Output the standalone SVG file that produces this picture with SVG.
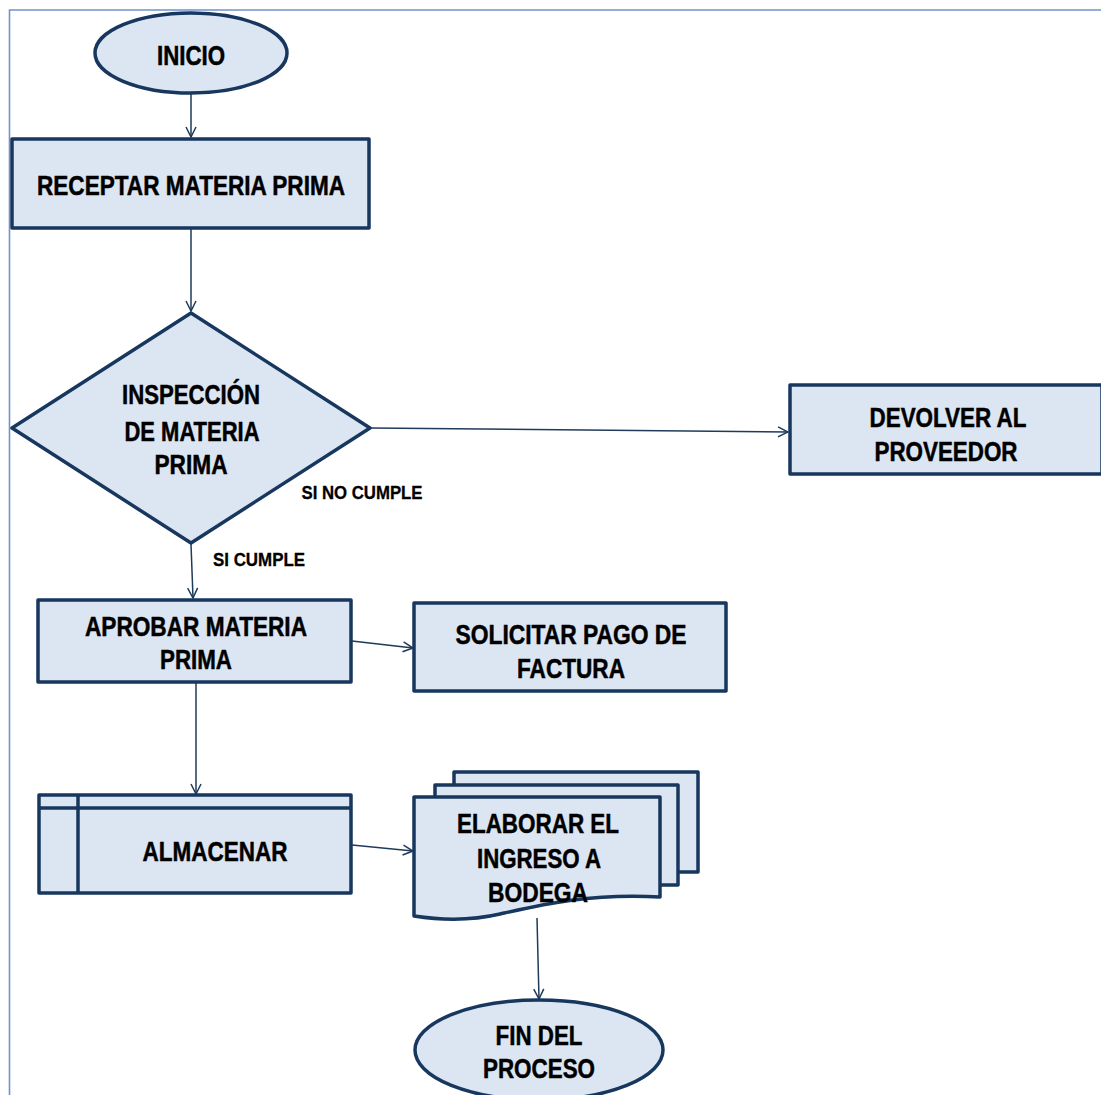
<svg xmlns="http://www.w3.org/2000/svg" width="1101" height="1095" viewBox="0 0 1101 1095">
<defs>
<style>
.shape{fill:#dce6f2;stroke:#17375e;stroke-width:3.5;stroke-linejoin:round}
.inner{fill:none;stroke:#17375e;stroke-width:3.5}
.lbl{font-family:"Liberation Sans Narrow","Liberation Sans",Arial,sans-serif;font-weight:bold;font-size:27px;fill:#000;stroke:#000;stroke-width:0.5;text-anchor:middle}
.small{font-size:18px;stroke-width:0.3}
.conn{fill:none;stroke:#1f3a5a;stroke-width:1.5;marker-end:url(#arr)}
</style>
<marker id="arr" viewBox="0 0 12 12" refX="11" refY="6" markerWidth="12" markerHeight="12" markerUnits="userSpaceOnUse" orient="auto">
<path d="M1,1 L11,6 L1,11" fill="none" stroke="#1f3a5a" stroke-width="1.5"/>
</marker>
</defs>
<rect width="1101" height="1095" fill="#ffffff"/>
<path d="M9.5,1095 V10 H1101" fill="none" stroke="#6f93cc" stroke-width="1.6"/>

<g id="connectors">
<path class="conn" d="M191,94 L191,137"/>
<path class="conn" d="M191,229 L191,311"/>
<path class="conn" d="M371,428 L788,432"/>
<path class="conn" d="M191,544 L193,598"/>
<path class="conn" d="M352,641 L413,648"/>
<path class="conn" d="M196,683 L196,794"/>
<path class="conn" d="M352,845 L413,851"/>
<path class="conn" d="M537,918 L539,999"/>
</g>

<g id="inicio">
<ellipse class="shape" cx="191" cy="53" rx="96" ry="40"/>
<text class="lbl" x="191" y="65" textLength="68" lengthAdjust="spacingAndGlyphs">INICIO</text>
</g>

<g id="receptar">
<rect class="shape" x="12" y="139" width="357" height="89"/>
<text class="lbl" x="191" y="195" textLength="308" lengthAdjust="spacingAndGlyphs">RECEPTAR MATERIA PRIMA</text>
</g>

<g id="inspeccion">
<polygon class="shape" points="191,313 370,428 191,543 12,428"/>
<text class="lbl" x="191" y="404" textLength="138" lengthAdjust="spacingAndGlyphs">INSPECCIÓN</text>
<text class="lbl" x="192" y="441" textLength="135" lengthAdjust="spacingAndGlyphs">DE MATERIA</text>
<text class="lbl" x="191" y="474" textLength="73" lengthAdjust="spacingAndGlyphs">PRIMA</text>
</g>

<text class="lbl small" x="362" y="499" textLength="121" lengthAdjust="spacingAndGlyphs">SI NO CUMPLE</text>
<text class="lbl small" x="259" y="566" textLength="92" lengthAdjust="spacingAndGlyphs">SI CUMPLE</text>

<g id="devolver">
<rect class="shape" x="790" y="385" width="312" height="89"/>
<text class="lbl" x="948" y="427" textLength="157" lengthAdjust="spacingAndGlyphs">DEVOLVER AL</text>
<text class="lbl" x="946" y="461" textLength="143" lengthAdjust="spacingAndGlyphs">PROVEEDOR</text>
</g>

<g id="aprobar">
<rect class="shape" x="38" y="600" width="313" height="82"/>
<text class="lbl" x="196" y="636" textLength="222" lengthAdjust="spacingAndGlyphs">APROBAR MATERIA</text>
<text class="lbl" x="196" y="669" textLength="72" lengthAdjust="spacingAndGlyphs">PRIMA</text>
</g>

<g id="solicitar">
<rect class="shape" x="414" y="603" width="312" height="88"/>
<text class="lbl" x="571" y="644" textLength="231" lengthAdjust="spacingAndGlyphs">SOLICITAR PAGO DE</text>
<text class="lbl" x="571" y="678" textLength="108" lengthAdjust="spacingAndGlyphs">FACTURA</text>
</g>

<g id="almacenar">
<rect class="shape" x="39" y="795" width="312" height="98"/>
<line class="inner" x1="39" y1="808" x2="351" y2="808"/>
<line class="inner" x1="78" y1="795" x2="78" y2="893"/>
<text class="lbl" x="215" y="861" textLength="145" lengthAdjust="spacingAndGlyphs">ALMACENAR</text>
</g>

<g id="elaborar">
<rect class="shape" x="454" y="772" width="244" height="100"/>
<rect class="shape" x="435" y="785" width="243" height="100"/>
<path class="shape" d="M414,797 H660 V897 C590,893 540,905 500,914 C470,921 440,920 414,916 Z"/>
<text class="lbl" x="538" y="833" textLength="162" lengthAdjust="spacingAndGlyphs">ELABORAR EL</text>
<text class="lbl" x="539" y="868" textLength="124" lengthAdjust="spacingAndGlyphs">INGRESO A</text>
<text class="lbl" x="538" y="902" textLength="100" lengthAdjust="spacingAndGlyphs">BODEGA</text>
</g>

<g id="fin">
<ellipse class="shape" cx="539" cy="1050" rx="124" ry="50"/>
<text class="lbl" x="539" y="1045" textLength="87" lengthAdjust="spacingAndGlyphs">FIN DEL</text>
<text class="lbl" x="539" y="1078" textLength="112" lengthAdjust="spacingAndGlyphs">PROCESO</text>
</g>
</svg>
